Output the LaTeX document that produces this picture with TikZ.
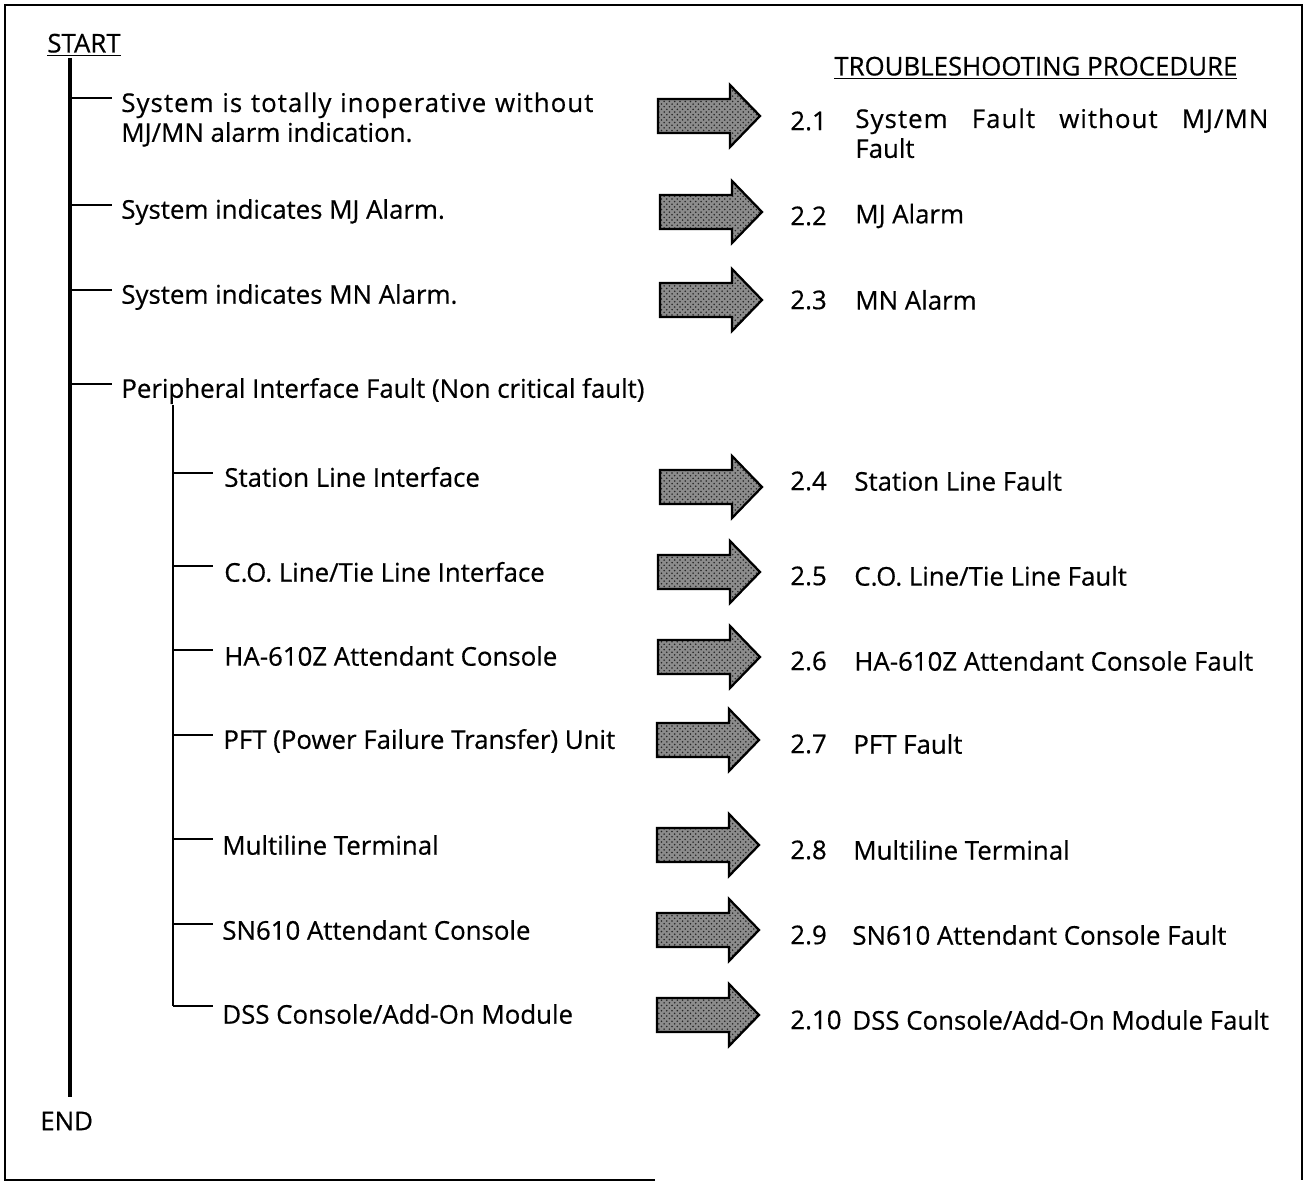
\documentclass[tikz,border=0pt]{standalone}
\usepackage{fontspec}
\setmainfont{Open Sans}
\newfontfamily\diagfont{Open Sans}[FakeBold=0.5]
\newfontfamily\spacedfont{Open Sans}[FakeBold=0.5,LetterSpace=4]
\usetikzlibrary{patterns}
\tikzset{
  txt/.style={inner sep=0pt, anchor=west, font=\diagfont\fontsize{14.7}{17}\selectfont},
  trunk/.style={line width=1.8pt},
  tick/.style={line width=1.1pt},
  frame/.style={line width=1.4pt},
  blockarrow/.style={draw=black, line width=1.3pt, line join=miter,
     preaction={fill=black!45}, pattern=crosshatch dots, pattern color=black!85}
}
\newcommand{\barrow}[3]{% name, left x, centre y
  \coordinate (#1) at (#2,#3);
  \path[blockarrow] (#1) ++(0,-17) -- ++(72,0) -- ++(0,-14) -- ++(30,31)
     -- ++(-30,31) -- ++(0,-14) -- ++(-72,0) -- cycle;}
\begin{document}
\hyphenpenalty=10000\relax
\begin{tikzpicture}[x=0.02cm,y=-0.02cm]
\useasboundingbox (0,0) rectangle (1306,1182);
% frame (bottom edge broken as in the scan)
\draw[frame] (655,1180) -- (5,1180) -- (5,5) -- (1302,5) -- (1302,1180);

% start / end
\node[txt] (start) at (47,45) {\underline{START}};
\node[txt] (end) at (40,1121) {END};
\coordinate (ttop) at (70,58);
\coordinate (tbot) at (70,1097);
\draw[trunk] (ttop) -- (tbot);

% headline
\node[txt] (tp) at (834,68) {\underline{TROUBLESHOOTING PROCEDURE}};

% first level
\node[txt, anchor=north west, text width=472*0.02cm, align=justify] (c1) at (121,92)
  {{\spacedfont System is totally inoperative without}\linebreak MJ/MN alarm indication.};
\node[txt] (c2) at (121,212) {System indicates MJ Alarm.};
\node[txt] (c3) at (121,297) {System indicates MN Alarm.};
\node[txt] (c4) at (121,391) {Peripheral Interface Fault (Non critical fault)};

\coordinate (b1) at (70,98);  \coordinate (e1) at (112,98);
\coordinate (b2) at (70,205); \coordinate (e2) at (112,205);
\coordinate (b3) at (70,290); \coordinate (e3) at (112,290);
\coordinate (b4) at (70,384); \coordinate (e4) at (112,384);
\foreach \i in {1,2,3,4} \draw[tick] (b\i) -- (e\i);

% second level
\coordinate (stop) at (173,405);
\coordinate (sbot) at (173,1006);
\draw[tick, line width=1.3pt] (stop) -- (sbot);

\node[txt] (s1) at (224,477) {Station Line Interface};
\node[txt] (s2) at (224,572) {C.O. Line/Tie Line Interface};
\node[txt] (s3) at (224,656) {HA-610Z Attendant Console};
\node[txt] (s4) at (223,741) {PFT (Power Failure Transfer) Unit};
\node[txt] (s5) at (222,845) {Multiline Terminal};
\node[txt] (s6) at (222,930) {SN610 Attendant Console};
\node[txt] (s7) at (222,1014) {DSS Console/Add-On Module};

\coordinate (sb1) at (173,473);  \coordinate (se1) at (213,473);
\coordinate (sb2) at (173,566);  \coordinate (se2) at (213,566);
\coordinate (sb3) at (173,650);  \coordinate (se3) at (213,650);
\coordinate (sb4) at (173,735);  \coordinate (se4) at (213,735);
\coordinate (sb5) at (173,839);  \coordinate (se5) at (213,839);
\coordinate (sb6) at (173,924);  \coordinate (se6) at (213,924);
\coordinate (sb7) at (173,1006); \coordinate (se7) at (213,1006);
\foreach \i in {1,...,7} \draw[tick] (sb\i) -- (se\i);

% arrows
\barrow{a1}{658}{116}
\barrow{a2}{660}{212}
\barrow{a3}{660}{300}
\barrow{a4}{660}{487}
\barrow{a5}{658}{572}
\barrow{a6}{658}{657}
\barrow{a7}{657}{740}
\barrow{a8}{657}{845}
\barrow{a9}{657}{930}
\barrow{a10}{657}{1015}

% procedures
\node[txt] (n1) at (790,121) {2.1};
\node[txt, anchor=north west, text width=413*0.02cm, align=justify] (p1) at (855,108)
  {{\spacedfont System Fault without MJ/MN}\linebreak Fault};
\node[txt] (n2) at (790,216) {2.2};  \node[txt] (p2) at (855,216) {MJ Alarm};
\node[txt] (n3) at (790,300) {2.3};  \node[txt] (p3) at (855,300) {MN Alarm};
\node[txt] (n4) at (790,481) {2.4};  \node[txt] (p4) at (854,481) {Station Line Fault};
\node[txt] (n5) at (790,576) {2.5};  \node[txt] (p5) at (854,576) {C.O. Line/Tie Line Fault};
\node[txt] (n6) at (790,661) {2.6};  \node[txt] (p6) at (854,661) {HA-610Z Attendant Console Fault};
\node[txt] (n7) at (790,744) {2.7};  \node[txt] (p7) at (853,744) {PFT Fault};
\node[txt] (n8) at (790,850) {2.8};  \node[txt] (p8) at (853,850) {Multiline Terminal};
\node[txt] (n9) at (790,935) {2.9};  \node[txt] (p9) at (852,935) {SN610 Attendant Console Fault};
\node[txt] (n10) at (790,1020) {2.10}; \node[txt] (p10) at (852,1020) {DSS Console/Add-On Module Fault};
\end{tikzpicture}
\end{document}
